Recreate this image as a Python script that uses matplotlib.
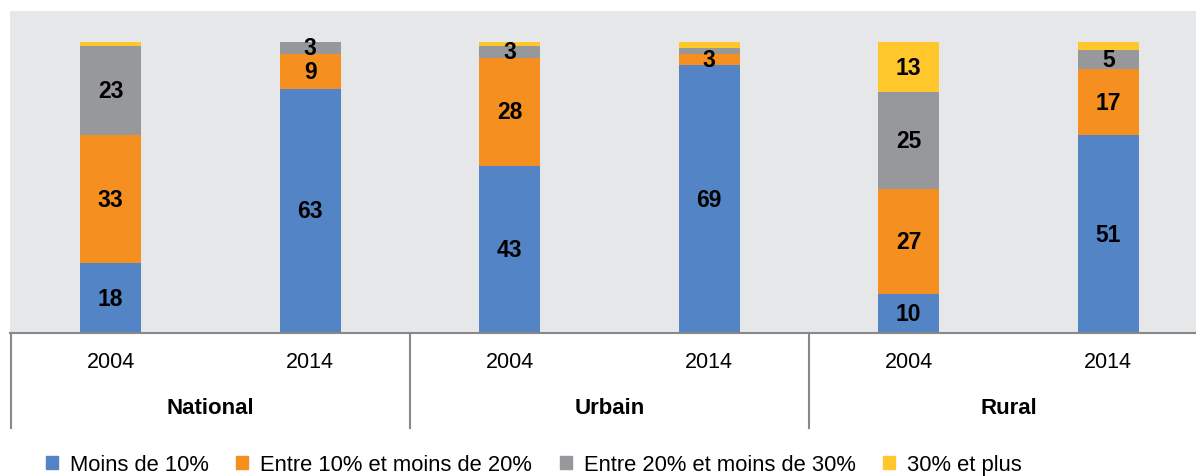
import matplotlib
matplotlib.use('Agg')
import matplotlib.pyplot as plt
from matplotlib.patches import Patch
from matplotlib.transforms import blended_transform_factory

plt.rcParams['font.family'] = ['Liberation Sans', 'DejaVu Sans']

# données
groupes = ['National', 'Urbain', 'Rural']
annees = ['2004', '2014', '2004', '2014', '2004', '2014']
series = ['Moins de 10%', 'Entre 10% et moins de 20%',
          'Entre 20% et moins de 30%', '30% et plus']
moins10 = [18, 63, 43, 69, 10, 51]
entre10_20 = [33, 9, 28, 3, 27, 17]
entre20_30 = [23, 3, 3, 1.5, 25, 5]
plus30 = [1, 0, 1, 1.5, 13, 2]
couleurs = ['#5385C6', '#F58F1F', '#97989B', '#FFC72C']

W, H = 1196, 477
fig = plt.figure(figsize=(W / 100, H / 100), dpi=100)
ax = fig.add_axes([10 / W, 1 - 334 / H, (W - 10) / W, (334 - 12) / H])
ax.set_facecolor('#E6E7E8')

x = list(range(len(annees)))
bas = [0] * len(x)
for vals, c in zip([moins10, entre10_20, entre20_30, plus30], couleurs):
    ax.bar(x, vals, 0.306, bottom=bas, color=c, linewidth=0)
    for i in x:
        if vals[i] >= 3:
            ax.text(i, bas[i] + vals[i] / 2, f'{vals[i]:g}', ha='center', va='center',
                    fontsize=16.5, fontweight='bold', color='black')
    bas = [b + v for b, v in zip(bas, vals)]

ax.set_xlim(-0.505, 5.44)
ax.set_ylim(0, 83)
ax.set_xticks([])
ax.set_yticks([])
for s in ['top', 'right', 'left']:
    ax.spines[s].set_visible(False)
ax.spines['bottom'].set_color('#888888')
ax.spines['bottom'].set_linewidth(1.5)

# axe des catégories
tr = blended_transform_factory(ax.transData, fig.transFigure)
for i, a in enumerate(annees):
    fig.text(i, 1 - 363 / H, a, transform=tr, ha='center', va='center', fontsize=15.5)
for j, g in enumerate(groupes):
    fig.text(2 * j + 0.5, 1 - 408 / H, g, transform=tr, ha='center', va='center',
             fontsize=16, fontweight='bold')
for xs in [-0.5, 1.5, 3.5]:
    ax.plot([xs, xs], [1 - 334 / H, 1 - 429 / H], transform=tr, color='#888888',
            linewidth=1.5, clip_on=False)

handles = [Patch(color=c) for c in couleurs]
fig.legend(handles, series, loc='center', bbox_to_anchor=(534 / W, 1 - 466 / H), ncol=4,
           frameon=False, fontsize=15.8, handlelength=0.55, handleheight=0.55,
           handletextpad=0.55, columnspacing=1.25)

fig.savefig('out.png', dpi=100)
